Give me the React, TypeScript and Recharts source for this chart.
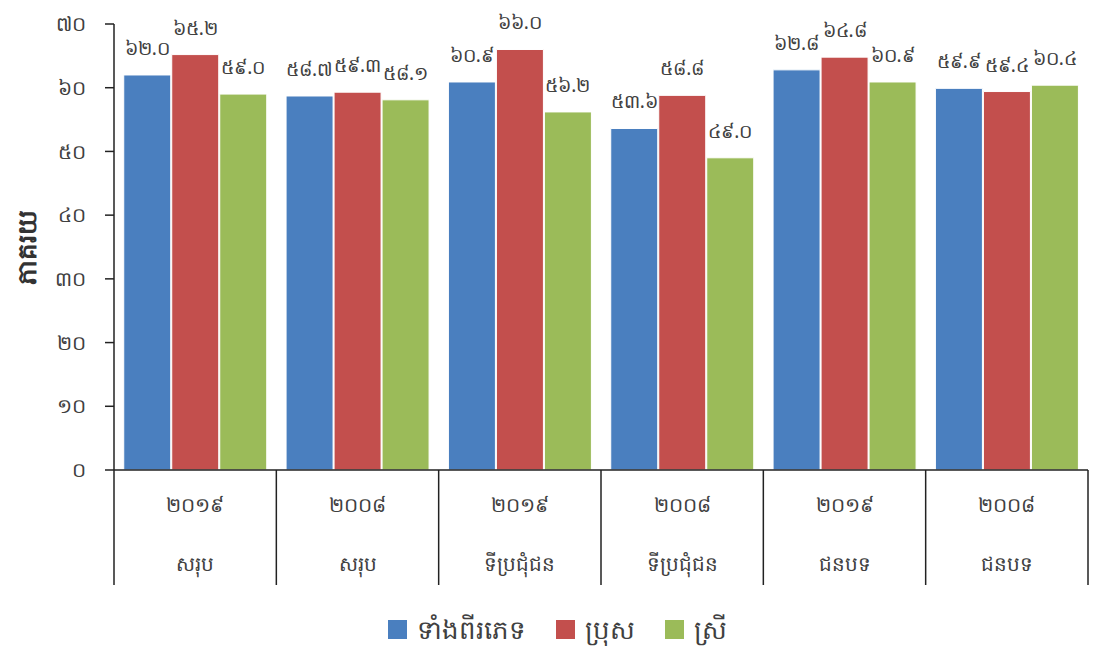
import { Bar, BarChart, LabelList, Legend, XAxis, YAxis } from 'recharts';

const years = ['2019', '2008', '2019', '2008', '2019', '2008'];
const regions = ['សរុប', 'សរុប', 'ទីប្រជុំជន', 'ទីប្រជុំជន', 'ជនបទ', 'ជនបទ'];
const both = [62.0, 58.7, 60.9, 53.6, 62.8, 59.9];
const male = [65.2, 59.3, 66.0, 58.8, 64.8, 59.4];
const female = [59.0, 58.1, 56.2, 49.0, 60.9, 60.4];
const yTicks = [0, 10, 20, 30, 40, 50, 60, 70];

const W = 1098;
const H = 646;
const LEFT = 114;
const RIGHT = 10;
const BAND = (W - LEFT - RIGHT) / years.length;
const FONT = '"Noto Sans", "DejaVu Sans", sans-serif';
const TEXT = '#404040';

const kh = '០១២៣៤៥៦៧៨៩';
const toKhmer = (s: string) => s.replace(/\d/g, (d) => kh[Number(d)]);

const data = years.map((y, i) => ({
  key: i,
  year: y,
  region: regions[i],
  both: both[i],
  male: male[i],
  female: female[i],
}));

function CatTick(props: any) {
  const { x, y, index } = props;
  const d = data[index];
  const left = x - BAND / 2;
  return (
    <g>
      <line x1={left} y1={y} x2={left} y2={y + 115} stroke="#222" strokeWidth={1.5} />
      {index === data.length - 1 && (
        <line x1={x + BAND / 2} y1={y} x2={x + BAND / 2} y2={y + 115} stroke="#222" strokeWidth={1.5} />
      )}
      <text x={x} y={y + 42} textAnchor="middle" fontSize={20} fill={TEXT} fontFamily={FONT}>
        {toKhmer(d.year)}
      </text>
      <text x={x} y={y + 101} textAnchor="middle" fontSize={20} fill={TEXT} fontFamily={FONT}>
        {d.region}
      </text>
    </g>
  );
}

function LegendBox({ payload }: any) {
  return (
    <div style={{ display: 'flex', justifyContent: 'center', gap: 30, paddingTop: 29, paddingLeft: 26 }}>
      {(payload || []).map((p: any) => (
        <div key={p.value} style={{ display: 'flex', alignItems: 'center', gap: 10, height: 30 }}>
          <span style={{ width: 19, height: 19, background: p.color, display: 'inline-block' }} />
          <span style={{ fontFamily: FONT, fontSize: 26, color: TEXT, lineHeight: '30px' }}>{p.value}</span>
        </div>
      ))}
    </div>
  );
}

const fmt = (v: any) => toKhmer(Number(v).toFixed(1));
const labelStyle = { fontSize: 19, fill: TEXT, fontFamily: FONT };

export default function App() {
  return (
    <div style={{ width: W, height: H }}>
      <style>{'body{margin:0}'}</style>
      <BarChart
        width={W}
        height={H}
        data={data}
        margin={{ top: 24, right: RIGHT, left: 0, bottom: 2 }}
        barCategoryGap="6%"
        barGap={1}
      >
        <XAxis
          dataKey="key"
          height={115}
          tick={<CatTick />}
          tickLine={false}
          tickSize={0}
          tickMargin={0}
          interval={0}
          axisLine={{ stroke: '#222', strokeWidth: 1.5 }}
        />
        <YAxis
          width={LEFT}
          domain={[0, 70]}
          ticks={yTicks}
          tickSize={9}
          tickMargin={19}
          tickFormatter={(v) => toKhmer(String(v))}
          tick={{ fill: TEXT, fontSize: 20, fontFamily: FONT }}
          tickLine={{ stroke: '#222', strokeWidth: 1.5 }}
          axisLine={{ stroke: '#222', strokeWidth: 1.5 }}
          label={{
            value: 'ភាគរយ',
            angle: -90,
            position: 'insideLeft',
            dx: 22,
            style: { fontSize: 26, fontWeight: 700, fill: '#333', fontFamily: FONT, textAnchor: 'middle' },
          }}
        />
        <Legend verticalAlign="bottom" content={<LegendBox />} />
        <Bar dataKey="both" name="ទាំងពីរភេទ" fill="#4a7fbf" stroke="#fff" strokeWidth={1} isAnimationActive={false}>
          <LabelList dataKey="both" position="top" offset={20} formatter={fmt} style={labelStyle} />
        </Bar>
        <Bar dataKey="male" name="ប្រុស" fill="#c34f4d" stroke="#fff" strokeWidth={1} isAnimationActive={false}>
          <LabelList dataKey="male" position="top" offset={20} formatter={fmt} style={labelStyle} />
        </Bar>
        <Bar dataKey="female" name="ស្រី" fill="#9bbb59" stroke="#fff" strokeWidth={1} isAnimationActive={false}>
          <LabelList dataKey="female" position="top" offset={20} formatter={fmt} style={labelStyle} />
        </Bar>
      </BarChart>
    </div>
  );
}
